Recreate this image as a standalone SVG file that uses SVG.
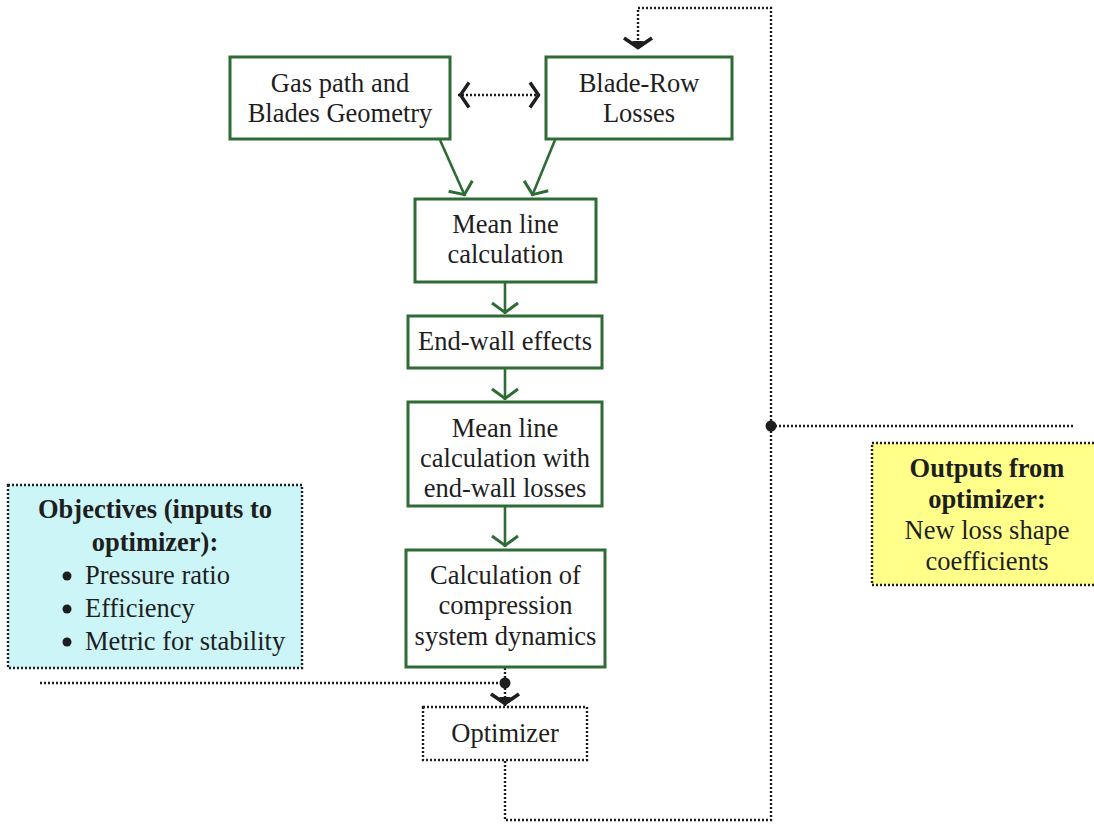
<svg xmlns="http://www.w3.org/2000/svg" width="1094" height="824" viewBox="0 0 1094 824">
  <defs>
    <style>
      text { font-family: "Liberation Serif", "Times New Roman", serif; font-size: 26.5px; fill: #1e1e1e; }
      .c { text-anchor: middle; }
      .b { font-weight: bold; }
      .box { fill: #ffffff; stroke: #2f6b34; stroke-width: 3; }
      .dbox { stroke: #1e1e1e; stroke-width: 2.4; stroke-dasharray: 2 2; }
      .flow { fill: none; stroke: #2f6b34; stroke-width: 2.6; }
      .dot { fill: none; stroke: #1e1e1e; stroke-width: 2.4; stroke-dasharray: 2 2; }
      .bullet { fill: #1e1e1e; }
    </style>
    <marker id="ahG" markerUnits="userSpaceOnUse" markerWidth="40" markerHeight="40" viewBox="-20 -20 40 40" refX="0" refY="0" orient="auto" overflow="visible">
      <path d="M-11,-13 L-1.5,0 L-11,13" fill="none" stroke="#2f6b34" stroke-width="3"/>
    </marker>
    <marker id="ahK" markerUnits="userSpaceOnUse" markerWidth="40" markerHeight="40" viewBox="-20 -20 40 40" refX="0" refY="0" orient="auto" overflow="visible">
      <path d="M-12,-14 L-2.5,0 L-12,14" fill="none" stroke="#1e1e1e" stroke-width="3.6"/>
      <path d="M-1,0 L-9,-6 L-9,6 Z" fill="#1e1e1e"/>
    </marker>
    <marker id="ahKs" markerUnits="userSpaceOnUse" markerWidth="40" markerHeight="40" viewBox="-20 -20 40 40" refX="0" refY="0" orient="auto-start-reverse" overflow="visible">
      <path d="M-11,-12.5 L-2.5,0 L-11,12.5" fill="none" stroke="#1e1e1e" stroke-width="3.4"/>
    </marker>
  </defs>

  <rect width="1094" height="824" fill="#ffffff"/>

  <!-- connectors -->
  <g id="connectors">
    <!-- geometry <-> losses -->
    <line class="dot" x1="458" y1="95" x2="541" y2="95" marker-start="url(#ahKs)" marker-end="url(#ahKs)"/>
    <!-- inputs into the mean line calculation -->
    <line class="flow" x1="440" y1="140" x2="465" y2="196" marker-end="url(#ahG)"/>
    <line class="flow" x1="555" y1="140" x2="532" y2="196" marker-end="url(#ahG)"/>
    <!-- main chain -->
    <line class="flow" x1="505" y1="283" x2="505" y2="314" marker-end="url(#ahG)"/>
    <line class="flow" x1="505" y1="369" x2="505" y2="400" marker-end="url(#ahG)"/>
    <line class="flow" x1="505" y1="507" x2="505" y2="547" marker-end="url(#ahG)"/>
    <!-- objectives joining before the optimizer -->
    <line class="dot" x1="505" y1="668" x2="505" y2="706" marker-end="url(#ahK)"/>
    <line class="dot" x1="40" y1="683" x2="505" y2="683"/>
    <circle cx="505" cy="683" r="5.5" fill="#1e1e1e"/>
    <!-- optimizer feedback loop to the loss model -->
    <polyline class="dot" points="505,761 505,820 771,820 771,8 638,8 638,50" marker-end="url(#ahK)"/>
    <line class="dot" x1="771" y1="426" x2="1075" y2="426"/>
    <circle cx="771" cy="426" r="5.5" fill="#1e1e1e"/>
  </g>

  <g id="geometry">
    <rect class="box" x="230" y="57" width="220" height="82"/>
    <text class="c" x="340" y="92">Gas path and</text>
    <text class="c" x="340" y="122">Blades Geometry</text>
  </g>

  <g id="losses">
    <rect class="box" x="546" y="57" width="186" height="82"/>
    <text class="c" x="639" y="92">Blade-Row</text>
    <text class="c" x="639" y="122">Losses</text>
  </g>

  <g id="meanline">
    <rect class="box" x="415" y="199" width="181" height="83"/>
    <text class="c" x="505.5" y="233">Mean line</text>
    <text class="c" x="505.5" y="263">calculation</text>
  </g>

  <g id="endwall">
    <rect class="box" x="408" y="316" width="194" height="52"/>
    <text class="c" x="505" y="350">End-wall effects</text>
  </g>

  <g id="meanline-endwall">
    <rect class="box" x="408" y="402" width="194" height="104"/>
    <text class="c" x="505" y="437">Mean line</text>
    <text class="c" x="505" y="467">calculation with</text>
    <text class="c" x="505" y="497">end-wall losses</text>
  </g>

  <g id="dynamics">
    <rect class="box" x="406" y="550" width="199" height="117"/>
    <text class="c" x="505.5" y="584">Calculation of</text>
    <text class="c" x="505.5" y="614">compression</text>
    <text class="c" x="505.5" y="645">system dynamics</text>
  </g>

  <g id="optimizer">
    <rect class="dbox" x="423" y="707" width="164" height="53" fill="#ffffff"/>
    <text class="c" x="505" y="742">Optimizer</text>
  </g>

  <g id="objectives">
    <rect class="dbox" x="8" y="485" width="294" height="183" fill="#cbf5f7"/>
    <text class="c b" x="155" y="518">Objectives (inputs to</text>
    <text class="c b" x="155" y="551">optimizer):</text>
    <circle class="bullet" cx="67" cy="576" r="4.5"/>
    <text x="85" y="584">Pressure ratio</text>
    <circle class="bullet" cx="67" cy="609" r="4.5"/>
    <text x="85" y="617">Efficiency</text>
    <circle class="bullet" cx="67" cy="642" r="4.5"/>
    <text x="85" y="650">Metric for stability</text>
  </g>

  <g id="outputs">
    <rect class="dbox" x="872" y="443" width="230" height="142" fill="#ffff8a"/>
    <text class="c b" x="987" y="477">Outputs from</text>
    <text class="c b" x="987" y="508">optimizer:</text>
    <text class="c" x="987" y="539">New loss shape</text>
    <text class="c" x="987" y="570">coefficients</text>
  </g>
</svg>
